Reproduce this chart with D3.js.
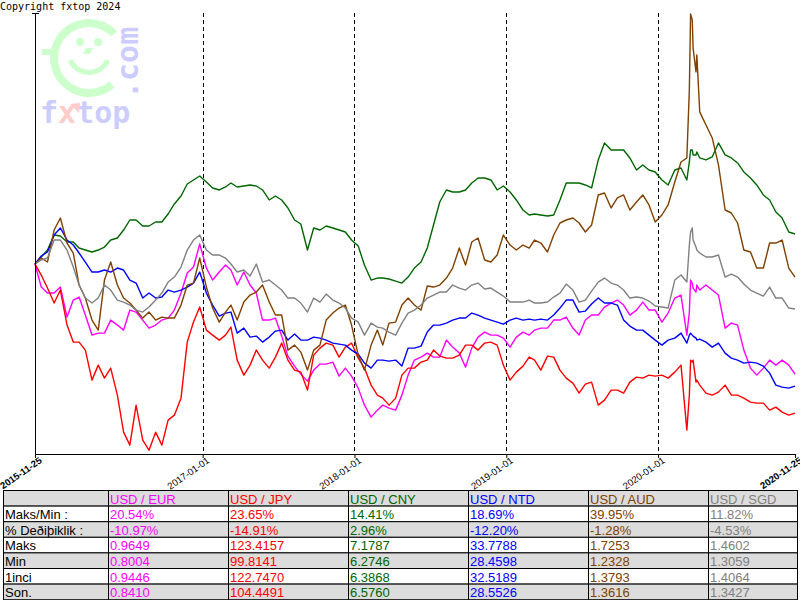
<!DOCTYPE html>
<html>
<head>
<meta charset="utf-8">
<script src="https://cdn.jsdelivr.net/npm/d3@7"></script>
<style>
  html, body { margin: 0; padding: 0; background: #fff; }
  svg { display: block; }
</style>
</head>
<body>
<div id="chart"></div>
<script>
// sample dates (semi-monthly, a few extra around the March 2020 spike)
const dates = [
  "2015-11-25", "2015-12-10", "2015-12-25",
  "2016-01-10", "2016-01-25", "2016-02-10", "2016-02-25", "2016-03-10", "2016-03-25", "2016-04-10", "2016-04-25",
  "2016-05-10", "2016-05-25", "2016-06-10", "2016-06-25", "2016-07-10", "2016-07-25", "2016-08-10", "2016-08-25",
  "2016-09-10", "2016-09-25", "2016-10-10", "2016-10-25", "2016-11-10", "2016-11-25", "2016-12-10", "2016-12-25",
  "2017-01-10", "2017-01-25", "2017-02-10", "2017-02-25", "2017-03-10", "2017-03-25", "2017-04-10", "2017-04-25",
  "2017-05-10", "2017-05-25", "2017-06-10", "2017-06-25", "2017-07-10", "2017-07-25", "2017-08-10", "2017-08-25",
  "2017-09-10", "2017-09-25", "2017-10-10", "2017-10-25", "2017-11-10", "2017-11-25", "2017-12-10", "2017-12-25",
  "2018-01-10", "2018-01-25", "2018-02-10", "2018-02-25", "2018-03-10", "2018-03-25", "2018-04-10", "2018-04-25",
  "2018-05-10", "2018-05-25", "2018-06-10", "2018-06-25", "2018-07-10", "2018-07-25", "2018-08-10", "2018-08-25",
  "2018-09-10", "2018-09-25", "2018-10-10", "2018-10-25", "2018-11-10", "2018-11-25", "2018-12-10", "2018-12-25",
  "2019-01-10", "2019-01-25", "2019-02-10", "2019-02-25", "2019-03-10", "2019-03-25", "2019-04-10", "2019-04-25",
  "2019-05-10", "2019-05-25", "2019-06-10", "2019-06-25", "2019-07-10", "2019-07-25", "2019-08-10", "2019-08-25",
  "2019-09-10", "2019-09-25", "2019-10-10", "2019-10-25", "2019-11-10", "2019-11-25", "2019-12-10", "2019-12-25",
  "2020-01-10", "2020-01-25", "2020-02-10", "2020-02-25", "2020-03-10", "2020-03-16", "2020-03-19", "2020-03-23",
  "2020-03-25", "2020-04-01", "2020-04-03", "2020-04-10", "2020-04-25", "2020-05-10", "2020-05-25", "2020-06-10",
  "2020-06-25", "2020-07-10", "2020-07-25", "2020-08-10", "2020-08-25", "2020-09-10", "2020-09-25", "2020-10-10",
  "2020-10-25", "2020-11-10", "2020-11-25"
];
const yearStarts = ["2017-01-01", "2018-01-01", "2019-01-01", "2020-01-01"];

// each rate indexed to 100 on the first day
const eurIdx = [
  100.0, 97.7, 97.1, 97.1, 97.7, 94.7, 96.4, 96.7, 94.9, 92.9, 93.1, 93.1, 94.4, 93.9, 93.4, 95.4, 95.2, 94.4, 93.6, 93.9, 94.4, 94.6, 95.4, 97.1, 99.1, 99.7, 102.0,
  99.6, 98.4, 99.2, 99.9, 99.4, 97.9, 99.2, 97.9, 97.1, 94.4, 94.4, 94.6, 92.8, 90.8, 89.8, 89.0, 88.3, 89.4, 90.0, 90.0, 90.2, 88.8, 89.6, 88.8,
  87.6, 85.9, 84.7, 85.4, 85.9, 85.6, 85.4, 86.9, 88.9, 90.4, 90.7, 91.1, 90.7, 90.7, 92.4, 91.7, 91.1, 89.7, 91.6, 92.7, 93.2, 92.9, 92.9, 92.6,
  91.7, 92.7, 93.2, 92.9, 93.4, 93.6, 93.6, 94.4, 94.4, 94.7, 93.6, 92.9, 94.4, 94.9, 94.9, 95.7, 96.1, 96.4, 95.9, 94.9, 95.4, 96.2, 95.4, 95.4,
  94.2, 95.1, 96.6, 96.9, 92.9, 95.2, 98.4, 98.1, 97.6, 97.2, 97.9, 97.4, 97.9, 97.4, 96.9, 93.6, 94.1, 93.9, 91.4, 89.6, 88.9, 89.6, 90.4, 89.9, 90.4, 89.9, 89.0
];
const jpyIdx = [
  100.0, 98.9, 97.6, 96.1, 97.4, 93.9, 92.2, 92.2, 91.4, 88.4, 89.9, 88.6, 89.6, 86.9, 83.2, 81.9, 85.9, 82.4, 81.4, 83.2, 81.9, 84.4, 84.9, 86.6, 92.2, 94.2, 95.7,
  93.4, 92.9, 92.4, 92.9, 93.7, 90.4, 88.9, 89.9, 91.4, 90.4, 89.6, 90.7, 92.1, 90.4, 89.4, 89.2, 87.4, 90.9, 91.6, 92.1, 91.9, 90.7, 91.7, 92.1,
  90.6, 89.6, 87.9, 86.9, 86.6, 85.9, 86.6, 88.9, 89.6, 89.6, 90.2, 90.4, 91.4, 90.8, 90.6, 90.6, 90.9, 91.9, 91.9, 91.4, 92.1, 92.2, 91.9, 89.9,
  88.4, 89.2, 89.8, 90.7, 90.4, 89.4, 90.8, 90.7, 89.4, 88.6, 88.1, 87.1, 88.0, 88.2, 85.9, 86.4, 87.4, 87.4, 87.1, 88.2, 88.7, 88.6, 88.9, 88.8,
  88.9, 88.6, 89.2, 89.9, 83.4, 86.9, 90.4, 90.2, 90.4, 88.2, 88.4, 87.9, 87.1, 86.9, 87.2, 87.9, 86.9, 86.9, 86.6, 86.2, 86.1, 86.1, 85.4, 85.7, 85.2, 84.9, 85.1
];
const cnyIdx = [
  100.0, 100.7, 101.4, 102.9, 102.8, 102.2, 102.2, 101.6, 101.4, 101.2, 101.4, 101.7, 102.4, 102.6, 103.4, 104.4, 104.4, 103.8, 103.8, 104.2, 104.2, 105.0, 106.0, 106.8, 108.0, 108.4, 108.8,
  108.2, 107.6, 107.4, 107.7, 108.1, 107.7, 107.8, 107.9, 107.8, 107.4, 106.4, 106.8, 106.4, 105.6, 104.4, 104.0, 101.4, 103.6, 103.4, 103.8, 103.6, 103.4, 103.2, 102.4,
  101.8, 99.9, 98.4, 98.6, 98.6, 98.5, 98.3, 98.1, 98.7, 99.6, 100.2, 101.6, 103.9, 106.2, 107.4, 107.2, 107.2, 107.4, 108.1, 108.6, 108.6, 108.4, 107.4, 107.8,
  107.2, 106.4, 105.4, 104.9, 105.0, 104.9, 104.8, 104.9, 106.4, 108.1, 108.1, 108.1, 107.9, 107.6, 110.4, 112.1, 111.4, 111.4, 111.4, 110.6, 109.4, 109.9, 109.4, 109.2,
  108.4, 107.9, 109.4, 109.6, 108.4, 110.2, 111.4, 111.4, 110.9, 110.9, 111.2, 110.6, 110.4, 110.7, 112.1, 110.9, 110.6, 110.1, 109.2, 108.6, 107.9, 106.9, 106.4, 105.2, 104.6, 103.2, 103.0
];
const ntdIdx = [
  100.0, 100.8, 101.2, 102.9, 103.6, 102.4, 101.9, 101.1, 100.2, 99.2, 99.2, 99.4, 99.2, 99.6, 99.4, 98.4, 98.1, 96.6, 97.1, 96.6, 96.7, 97.4, 97.2, 97.4, 97.7, 98.1, 99.2,
  97.1, 95.9, 94.8, 95.1, 95.2, 93.1, 93.6, 92.7, 92.8, 92.2, 92.7, 93.3, 93.4, 92.4, 93.0, 92.4, 92.4, 92.7, 92.6, 92.4, 92.1, 92.0, 91.9, 91.4,
  91.0, 90.1, 89.6, 90.4, 90.4, 90.3, 90.4, 89.8, 91.6, 91.6, 91.8, 93.2, 93.9, 93.9, 94.1, 94.4, 94.6, 94.6, 95.1, 94.9, 94.6, 94.4, 94.2, 94.0,
  94.4, 94.6, 94.4, 94.5, 94.4, 94.5, 94.4, 94.9, 95.6, 96.4, 96.4, 95.2, 95.3, 96.0, 96.6, 96.1, 96.1, 95.9, 94.4, 93.8, 93.4, 93.4, 92.9, 92.4,
  91.9, 92.4, 92.6, 93.1, 92.1, 92.9, 93.1, 92.9, 92.8, 92.6, 92.4, 92.5, 92.2, 91.7, 92.1, 91.1, 90.6, 90.4, 90.1, 90.2, 90.1, 89.8, 89.1, 87.9, 87.7, 87.6, 87.8
];
const audIdx = [
  100.0, 100.6, 100.2, 103.4, 104.6, 102.1, 101.1, 97.9, 96.6, 94.4, 93.4, 98.4, 100.2, 97.9, 96.6, 96.1, 95.4, 94.6, 95.2, 94.4, 94.7, 94.6, 94.6, 95.9, 97.9, 98.1, 100.6,
  97.7, 95.6, 94.2, 95.2, 95.9, 94.4, 96.2, 96.9, 97.2, 97.9, 96.2, 94.9, 94.9, 91.4, 91.9, 91.2, 89.4, 91.4, 91.9, 94.4, 95.1, 95.6, 95.9, 93.9,
  90.9, 89.4, 91.9, 93.4, 91.9, 94.1, 94.2, 95.9, 96.6, 95.9, 95.4, 97.8, 97.7, 97.9, 98.6, 99.6, 101.6, 99.9, 102.2, 102.6, 100.4, 100.2, 100.9, 102.9,
  101.9, 101.4, 101.9, 101.6, 102.4, 102.1, 101.2, 102.9, 104.1, 104.4, 104.6, 104.1, 103.2, 103.9, 106.9, 107.1, 105.6, 106.6, 106.9, 105.4, 106.2, 106.9, 105.9, 104.2,
  104.9, 105.9, 108.2, 110.2, 110.6, 117.4, 125.0, 124.4, 121.6, 119.2, 120.9, 115.2, 113.9, 112.6, 109.9, 105.4, 105.1, 104.1, 101.4, 101.2, 99.6, 99.6, 102.1, 102.1, 102.4, 99.6, 98.7
];
const sgdIdx = [
  100.0, 100.4, 100.6, 102.4, 102.4, 101.4, 99.7, 97.9, 96.6, 96.1, 96.6, 97.9, 97.4, 96.4, 96.2, 95.9, 95.4, 95.2, 95.7, 96.4, 97.1, 98.2, 98.7, 99.7, 101.4, 102.4, 102.9,
  101.4, 100.9, 100.9, 100.6, 100.0, 99.2, 99.4, 98.8, 100.0, 98.2, 98.4, 97.9, 97.4, 96.6, 96.6, 96.1, 95.2, 96.6, 96.2, 97.0, 96.4, 96.1, 95.6, 94.6,
  94.2, 92.9, 94.1, 93.7, 93.6, 93.2, 92.9, 94.1, 95.1, 95.4, 95.9, 96.6, 96.9, 97.2, 97.2, 97.9, 97.6, 97.4, 97.9, 98.1, 97.5, 97.6, 97.2, 96.8,
  96.2, 96.2, 96.2, 96.4, 96.1, 96.1, 96.2, 96.7, 97.1, 98.0, 97.4, 96.2, 96.4, 97.3, 98.2, 98.6, 98.1, 97.9, 97.4, 96.6, 96.7, 96.6, 96.3, 95.8,
  95.7, 95.6, 98.4, 98.9, 98.2, 101.9, 103.2, 103.6, 102.4, 101.7, 101.4, 101.1, 100.7, 100.7, 100.9, 98.7, 99.0, 98.7, 98.0, 97.4, 97.1, 96.8, 97.7, 96.6, 96.6, 95.6, 95.5
];

// table
const pairs = ["USD / EUR", "USD / JPY", "USD / CNY", "USD / NTD", "USD / AUD", "USD / SGD"];
const colors = ["#ff00ff", "#ff0000", "#006600", "#0000ff", "#804000", "#808080"];
const rowLabels = ["Maks/Min :", "% Deðiþiklik :", "Maks", "Min", "1inci", "Son."];
const maxMinPct = ["20.54%", "23.65%", "14.41%", "18.69%", "39.95%", "11.82%"];
const changePct = ["-10.97%", "-14.91%", "2.96%", "-12.20%", "-1.28%", "-4.53%"];
const maxRates = [0.9649, 123.4157, 7.1787, 33.7788, 1.7253, 1.4602];
const minRates = [0.8004, 99.8141, 6.2746, 28.4598, 1.2328, 1.3059];
const firstRates = [0.9446, 122.7470, 6.3868, 32.5189, 1.3793, 1.4064];
const lastRates = [0.8410, 104.4491, 6.5760, 28.5526, 1.3616, 1.3427];

const seriesValues = [eurIdx, jpyIdx, cnyIdx, ntdIdx, audIdx, sgdIdx];

const W = 800, H = 600;
const svg = d3.select("#chart").append("svg").attr("width", W).attr("height", H);

const parse = d3.utcParse("%Y-%m-%d");
const when = dates.map(parse);

const x = d3.scaleUtc()
    .domain([when[0], when[when.length - 1]])
    .range([35, 795]);

const yMin = d3.min(minRates, (m, i) => m / firstRates[i] * 100);
const yMax = d3.max(maxRates, (m, i) => m / firstRates[i] * 100);
const y = d3.scaleLinear().domain([yMin, yMax]).range([451, 13]);

// fxtop watermark
const wm = svg.append("g");
const lightGreen = "#ccffcc", lightBlue = "#ccccff", lightRed = "#ffcccc";
wm.append("path")
    .attr("transform", "translate(89,58)")
    .attr("d", d3.arc()({ innerRadius: 31, outerRadius: 39, startAngle: 139 * Math.PI / 180, endAngle: 406 * Math.PI / 180 }))
    .attr("fill", lightGreen);
wm.append("rect").attr("x", 42).attr("y", 49).attr("width", 12).attr("height", 6).attr("fill", lightGreen);
wm.append("circle").attr("cx", 80).attr("cy", 42).attr("r", 4).attr("fill", lightGreen);
wm.append("circle").attr("cx", 98).attr("cy", 42).attr("r", 4).attr("fill", lightGreen);
wm.append("polygon").attr("points", "86,48 93,48 90,54 83,54").attr("fill", lightGreen);
wm.append("path")
    .attr("transform", "translate(89,52)")
    .attr("d", d3.arc()({ innerRadius: 18, outerRadius: 23, startAngle: 114 * Math.PI / 180, endAngle: 246 * Math.PI / 180 }))
    .attr("fill", lightGreen);
wm.append("text")
    .attr("transform", "translate(138,99) rotate(-90)")
    .attr("font-family", "DejaVu Sans Mono")
    .attr("font-weight", "bold")
    .attr("font-size", 30)
    .attr("fill", lightBlue)
    .text(".com");
const fx = wm.append("text")
    .attr("x", 40).attr("y", 123)
    .attr("font-family", "DejaVu Sans Mono")
    .attr("font-weight", "bold")
    .attr("font-size", 30)
    .attr("fill", lightBlue);
fx.append("tspan").text("f");
fx.append("tspan").attr("fill", lightRed).text("x");
fx.append("tspan").text("top");
wm.append("polygon").attr("points", "70,104 80,103 79,113").attr("fill", lightRed);

svg.append("text")
    .attr("x", 0).attr("y", 10)
    .attr("font-family", "DejaVu Sans Mono")
    .attr("font-size", 10)
    .attr("fill", "#000")
    .text("Copyright fxtop 2024");

// dashed year lines
svg.append("g").selectAll("line")
    .data(yearStarts.map(parse))
    .join("line")
    .attr("x1", d => Math.round(x(d)) + 0.5)
    .attr("x2", d => Math.round(x(d)) + 0.5)
    .attr("y1", 13)
    .attr("y2", 454)
    .attr("stroke", "#000")
    .attr("stroke-dasharray", "4,3");

// series
const line = d3.line()
    .x((d, i) => x(when[i]))
    .y(d => y(d));

svg.append("g").selectAll("path")
    .data(seriesValues)
    .join("path")
    .attr("fill", "none")
    .attr("stroke", (d, i) => colors[i])
    .attr("stroke-width", 1.4)
    .attr("stroke-linejoin", "round")
    .attr("d", line);

// axes
const xTicks = [when[0], ...yearStarts.map(parse), when[when.length - 1]];
const gx = svg.append("g")
    .attr("transform", "translate(0,454)")
    .call(d3.axisBottom(x)
        .tickValues(xTicks)
        .tickSize(4)
        .tickSizeOuter(0)
        .tickFormat(d3.utcFormat("%Y-%m-%d")));
gx.selectAll("text")
    .attr("y", 0)
    .attr("dy", 0)
    .attr("transform", "translate(7,8) rotate(-35)")
    .attr("text-anchor", "end")
    .attr("font-family", "Liberation Sans, Arial, sans-serif")
    .attr("font-size", 9.5)
    .attr("font-weight", (d, i) => (i === 0 || i === xTicks.length - 1) ? "bold" : "normal");

const gy = svg.append("g")
    .attr("transform", "translate(35,0)")
    .call(d3.axisLeft(y).tickValues([yMax]).tickFormat("").tickSize(3).tickSizeOuter(0));
gy.select(".domain").remove();
gy.selectAll(".tick line").attr("x2", -3).attr("x1", 4);
gy.append("line")
    .attr("x1", 0.5).attr("x2", 0.5)
    .attr("y1", y(yMax)).attr("y2", 454.5)
    .attr("stroke", "#000");

// stats table
const colX = [3, 108, 228, 348, 468, 588, 708, 797];
const tableTop = 490.5, rowH = 15.6;
const fmt = v => v.toFixed(4);
const rows = [
    [""].concat(pairs),
    [rowLabels[0]].concat(maxMinPct),
    [rowLabels[1]].concat(changePct),
    [rowLabels[2]].concat(maxRates.map(fmt)),
    [rowLabels[3]].concat(minRates.map(fmt)),
    [rowLabels[4]].concat(firstRates.map(fmt)),
    [rowLabels[5]].concat(lastRates.map(fmt))
];

const table = svg.append("g")
    .attr("font-family", "Liberation Sans, Arial, sans-serif")
    .attr("font-size", 13);

rows.forEach((row, r) => {
    const top = tableTop + r * rowH;
    const shaded = r % 2 === 0;
    row.forEach((cell, c) => {
        table.append("rect")
            .attr("x", colX[c] + 0.5)
            .attr("y", top)
            .attr("width", colX[c + 1] - colX[c])
            .attr("height", rowH)
            .attr("fill", shaded ? "#dcdcdc" : "#fff")
            .attr("stroke", "#000")
            .attr("stroke-width", 1);
        table.append("text")
            .attr("x", colX[c] + 2)
            .attr("y", top + 13)
            .attr("fill", c === 0 ? "#000" : colors[c - 1])
            .text(cell);
    });
});
</script>
</body>
</html>
